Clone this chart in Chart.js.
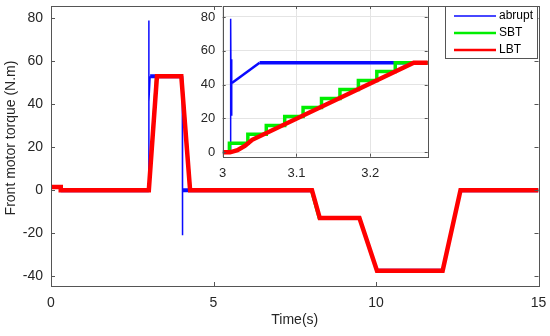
<!DOCTYPE html>
<html>
<head>
<meta charset="utf-8">
<script src="https://cdn.jsdelivr.net/npm/chart.js@4.4.1/dist/chart.umd.min.js"></script>
<style>
    body { margin: 0; background: #fff; }
    #wrap { position: relative; width: 550px; height: 336px; }
    #mainChart { position: absolute; left: 0; top: 0; }
    #zoomChart { position: absolute; left: 190px; top: 0; }
</style>
</head>
<body>
<div id="wrap">
    <canvas id="mainChart" width="550" height="336"></canvas>
    <canvas id="zoomChart" width="250" height="185"></canvas>
</div>
<script>
// Front motor torque, whole run (s, N.m)
const blueTime = [0, 0.3, 0.3, 3.0105, 3.0108, 3.0115, 3.012, 3.0125, 3.05, 4.04, 4.045, 4.05, 4.3, 8.03, 8.27, 9.49, 10.03, 12.05, 12.6, 15];
const blueTorque = [1.5, 1.5, 0, 0, 79, 22, 55, 41, 53, 53, -21, 0, 0, 0, -13, -13, -37.5, -37.5, 0, 0];
const greenTime = [0, 0.3, 0.3, 3.01, 3.24, 4.02, 4.29, 8.0, 8.24, 9.49, 10.03, 12.05, 12.6, 15];
const greenTorque = [1.5, 1.5, 0, 0, 53, 53, 0, 0, -13, -13, -37.5, -37.5, 0, 0];
const redTime = [0, 0.3, 0.3, 3.01, 3.26, 4.01, 4.28, 8.03, 8.27, 9.49, 10.03, 12.05, 12.6, 15];
const redTorque = [1.5, 1.5, 0, 0, 53, 53, 0, 0, -13, -13, -37.5, -37.5, 0, 0];

// Zoom on the first transition
const zoomBlueTime = [3.0, 3.0105, 3.0108, 3.0115, 3.012, 3.0125, 3.05, 3.28];
const zoomBlueTorque = [0, 0, 79, 22, 55, 41, 53, 53];
const zoomGreenTime = [3.0, 3.0091, 3.0341, 3.0591, 3.0841, 3.109, 3.134, 3.159, 3.184, 3.209, 3.234, 3.28];
const zoomGreenTorque = [0, 5.3, 10.6, 15.9, 21.2, 26.5, 31.8, 37.1, 42.4, 47.7, 53, 53];
const zoomRedTime = [3.0, 3.01, 3.02, 3.03, 3.04, 3.259, 3.28];
const zoomRedTorque = [0, 0, 1.2, 3.8, 7.4, 53, 53];

const seriesNames = ['abrupt', 'SBT', 'LBT'];
const seriesColors = ['#0a0aff', '#00ee00', '#ff0000'];

const mainXTicks = [0, 5, 10, 15];
const mainYTicks = [-40, -20, 0, 20, 40, 60, 80];
const zoomXTicks = [3, 3.1, 3.2];
const zoomYTicks = [0, 20, 40, 60, 80];

Chart.defaults.font.family = "'Liberation Sans', Arial, sans-serif";
Chart.defaults.color = '#262626';

document.addEventListener('DOMContentLoaded', function() {
    initMainChart();
    initZoomChart();
});

function toPoints(xs, ys) {
    return xs.map((x, i) => ({ x: x, y: ys[i] }));
}

// blue is thin on the spikes, thicker where it sits flat
function blueWidth(flat, slope) {
    return function(ctx) {
        const dx = Math.abs(ctx.p1.x - ctx.p0.x);
        if (ctx.p0.parsed.y === ctx.p1.parsed.y) return flat;
        if (dx < 2) return 1.5;
        return slope;
    };
}

// keep the plot box where the layout padding puts it
function fixX(h) {
    return function(scale) {
        scale.height = h;
        scale.paddingLeft = 0;
        scale.paddingRight = 0;
    };
}
function fixY(w) {
    return function(scale) {
        scale.width = w;
        scale.paddingTop = 0;
        scale.paddingBottom = 0;
    };
}

// box round the plot with small inward ticks, like matlab
const framePlugin = {
    id: 'frame',
    beforeDraw(chart, args, opts) {
        if (!opts.fill) return;
        const a = chart.chartArea;
        chart.ctx.save();
        chart.ctx.fillStyle = opts.fill;
        chart.ctx.fillRect(a.left, a.top, a.right - a.left, a.bottom - a.top);
        chart.ctx.restore();
    },
    afterDraw(chart, args, opts) {
        const ctx = chart.ctx;
        const a = chart.chartArea;
        const len = opts.tickLen || 0;
        ctx.save();
        ctx.strokeStyle = opts.color || '#555';
        ctx.lineWidth = 1;
        ctx.strokeRect(Math.round(a.left) + 0.5, Math.round(a.top) + 0.5,
            Math.round(a.right - a.left), Math.round(a.bottom - a.top));
        if (len > 0) {
            ctx.beginPath();
            chart.scales.x.ticks.forEach(t => {
                const px = Math.round(chart.scales.x.getPixelForValue(t.value)) + 0.5;
                ctx.moveTo(px, a.bottom); ctx.lineTo(px, a.bottom - len);
                ctx.moveTo(px, a.top); ctx.lineTo(px, a.top + len);
            });
            chart.scales.y.ticks.forEach(t => {
                const py = Math.round(chart.scales.y.getPixelForValue(t.value)) + 0.5;
                ctx.moveTo(a.left, py); ctx.lineTo(a.left + len, py);
                ctx.moveTo(a.right, py); ctx.lineTo(a.right - len, py);
            });
            ctx.stroke();
        }
        ctx.restore();
    }
};

// axis titles and the boxed legend in the top right corner
const labelsPlugin = {
    id: 'labels',
    afterDraw(chart) {
        const ctx = chart.ctx;
        const a = chart.chartArea;
        ctx.save();
        ctx.fillStyle = '#262626';
        ctx.font = "14px 'Liberation Sans', Arial, sans-serif";
        ctx.textAlign = 'center';
        ctx.textBaseline = 'middle';
        ctx.fillText('Time(s)', (a.left + a.right) / 2, 320);
        ctx.translate(11.5, 138);
        ctx.rotate(-Math.PI / 2);
        ctx.fillText('Front motor torque (N.m)', 0, 0);
        ctx.restore();

        const boxW = 92, boxH = 52;
        const bx = Math.round(a.right - 2 - boxW) + 0.5;
        const by = Math.round(a.top) + 0.5;
        ctx.save();
        ctx.fillStyle = '#fff';
        ctx.fillRect(bx, by, boxW, boxH);
        ctx.strokeStyle = '#555';
        ctx.lineWidth = 1;
        ctx.strokeRect(bx, by, boxW, boxH);
        ctx.font = "12px 'Liberation Sans', Arial, sans-serif";
        ctx.textAlign = 'left';
        ctx.textBaseline = 'middle';
        chart.data.datasets.slice().sort((p, q) => p.legendIndex - q.legendIndex).forEach((ds, i) => {
            const y = by + 9.5 + i * 17;
            ctx.strokeStyle = ds.borderColor;
            ctx.lineWidth = i === 0 ? 1.5 : 2.5;
            ctx.beginPath();
            ctx.moveTo(bx + 8.5, y);
            ctx.lineTo(bx + 50.5, y);
            ctx.stroke();
            ctx.fillStyle = '#000';
            ctx.fillText(ds.label, bx + 53.5, y);
        });
        ctx.restore();
    }
};

function initMainChart() {
    const ctx = document.getElementById('mainChart');

    new Chart(ctx, {
        type: 'line',
        data: {
            datasets: [{
                label: seriesNames[0],
                legendIndex: 0,
                data: toPoints(blueTime, blueTorque),
                borderColor: seriesColors[0],
                borderWidth: 1.5,
                segment: { borderWidth: blueWidth(4, 1.5) },
                order: 2
            }, {
                label: seriesNames[1],
                legendIndex: 1,
                data: toPoints(greenTime, greenTorque),
                borderColor: seriesColors[1],
                borderWidth: 2.5,
                order: 1
            }, {
                label: seriesNames[2],
                legendIndex: 2,
                data: toPoints(redTime, redTorque),
                borderColor: seriesColors[2],
                borderWidth: 4.5,
                order: 0
            }]
        },
        options: {
            responsive: false,
            animation: false,
            devicePixelRatio: 1,
            layout: { padding: { left: 0, right: 11.5, top: 6, bottom: 0 } },
            elements: { point: { radius: 0 }, line: { tension: 0, borderJoinStyle: 'miter' } },
            plugins: {
                legend: { display: false },
                tooltip: { enabled: false },
                frame: { color: '#555', tickLen: 4 }
            },
            scales: {
                x: {
                    type: 'linear',
                    min: 0,
                    max: 15,
                    grid: { display: false, drawTicks: false },
                    border: { display: false },
                    ticks: { padding: 9, font: { size: 14 }, callback: v => String(v), maxRotation: 0 },
                    afterBuildTicks: scale => { scale.ticks = mainXTicks.map(v => ({ value: v })); },
                    afterFit: fixX(50)
                },
                y: {
                    min: -44.6,
                    max: 85.7,
                    grid: { display: false, drawTicks: false },
                    border: { display: false },
                    ticks: { padding: 8, font: { size: 14 }, callback: v => String(v) },
                    afterBuildTicks: scale => { scale.ticks = mainYTicks.map(v => ({ value: v })); },
                    afterFit: fixY(51)
                }
            }
        },
        plugins: [framePlugin, labelsPlugin]
    });
}

function initZoomChart() {
    const ctx = document.getElementById('zoomChart');

    new Chart(ctx, {
        type: 'line',
        data: {
            datasets: [{
                label: seriesNames[0],
                data: toPoints(zoomBlueTime, zoomBlueTorque),
                borderColor: seriesColors[0],
                borderWidth: 1.5,
                segment: { borderWidth: blueWidth(3.5, 2.5) },
                order: 2
            }, {
                label: seriesNames[1],
                data: toPoints(zoomGreenTime, zoomGreenTorque),
                borderColor: seriesColors[1],
                borderWidth: 3.5,
                stepped: 'before',
                order: 1
            }, {
                label: seriesNames[2],
                data: toPoints(zoomRedTime, zoomRedTorque),
                borderColor: seriesColors[2],
                borderWidth: 4.5,
                order: 0
            }]
        },
        options: {
            responsive: false,
            animation: false,
            devicePixelRatio: 1,
            layout: { padding: { left: 0, right: 12.3, top: 6, bottom: 0 } },
            elements: { point: { radius: 0 }, line: { tension: 0, borderJoinStyle: 'miter' } },
            plugins: {
                legend: { display: false },
                tooltip: { enabled: false },
                frame: { color: '#555', tickLen: 3, fill: '#fff' }
            },
            scales: {
                x: {
                    type: 'linear',
                    min: 3.0,
                    max: 3.278,
                    grid: { color: '#e4e4e4', drawTicks: false },
                    border: { display: false },
                    ticks: { padding: 9, font: { size: 13 }, callback: v => String(v), maxRotation: 0 },
                    afterBuildTicks: scale => { scale.ticks = zoomXTicks.map(v => ({ value: v })); },
                    afterFit: fixX(28.3)
                },
                y: {
                    min: -2.6,
                    max: 86.5,
                    grid: { color: '#e4e4e4', drawTicks: false },
                    border: { display: false },
                    ticks: { padding: 7.5, font: { size: 13 }, callback: v => String(v) },
                    afterBuildTicks: scale => { scale.ticks = zoomYTicks.map(v => ({ value: v })); },
                    afterFit: fixY(32.7)
                }
            }
        },
        plugins: [framePlugin]
    });
}
</script>
</body>
</html>
